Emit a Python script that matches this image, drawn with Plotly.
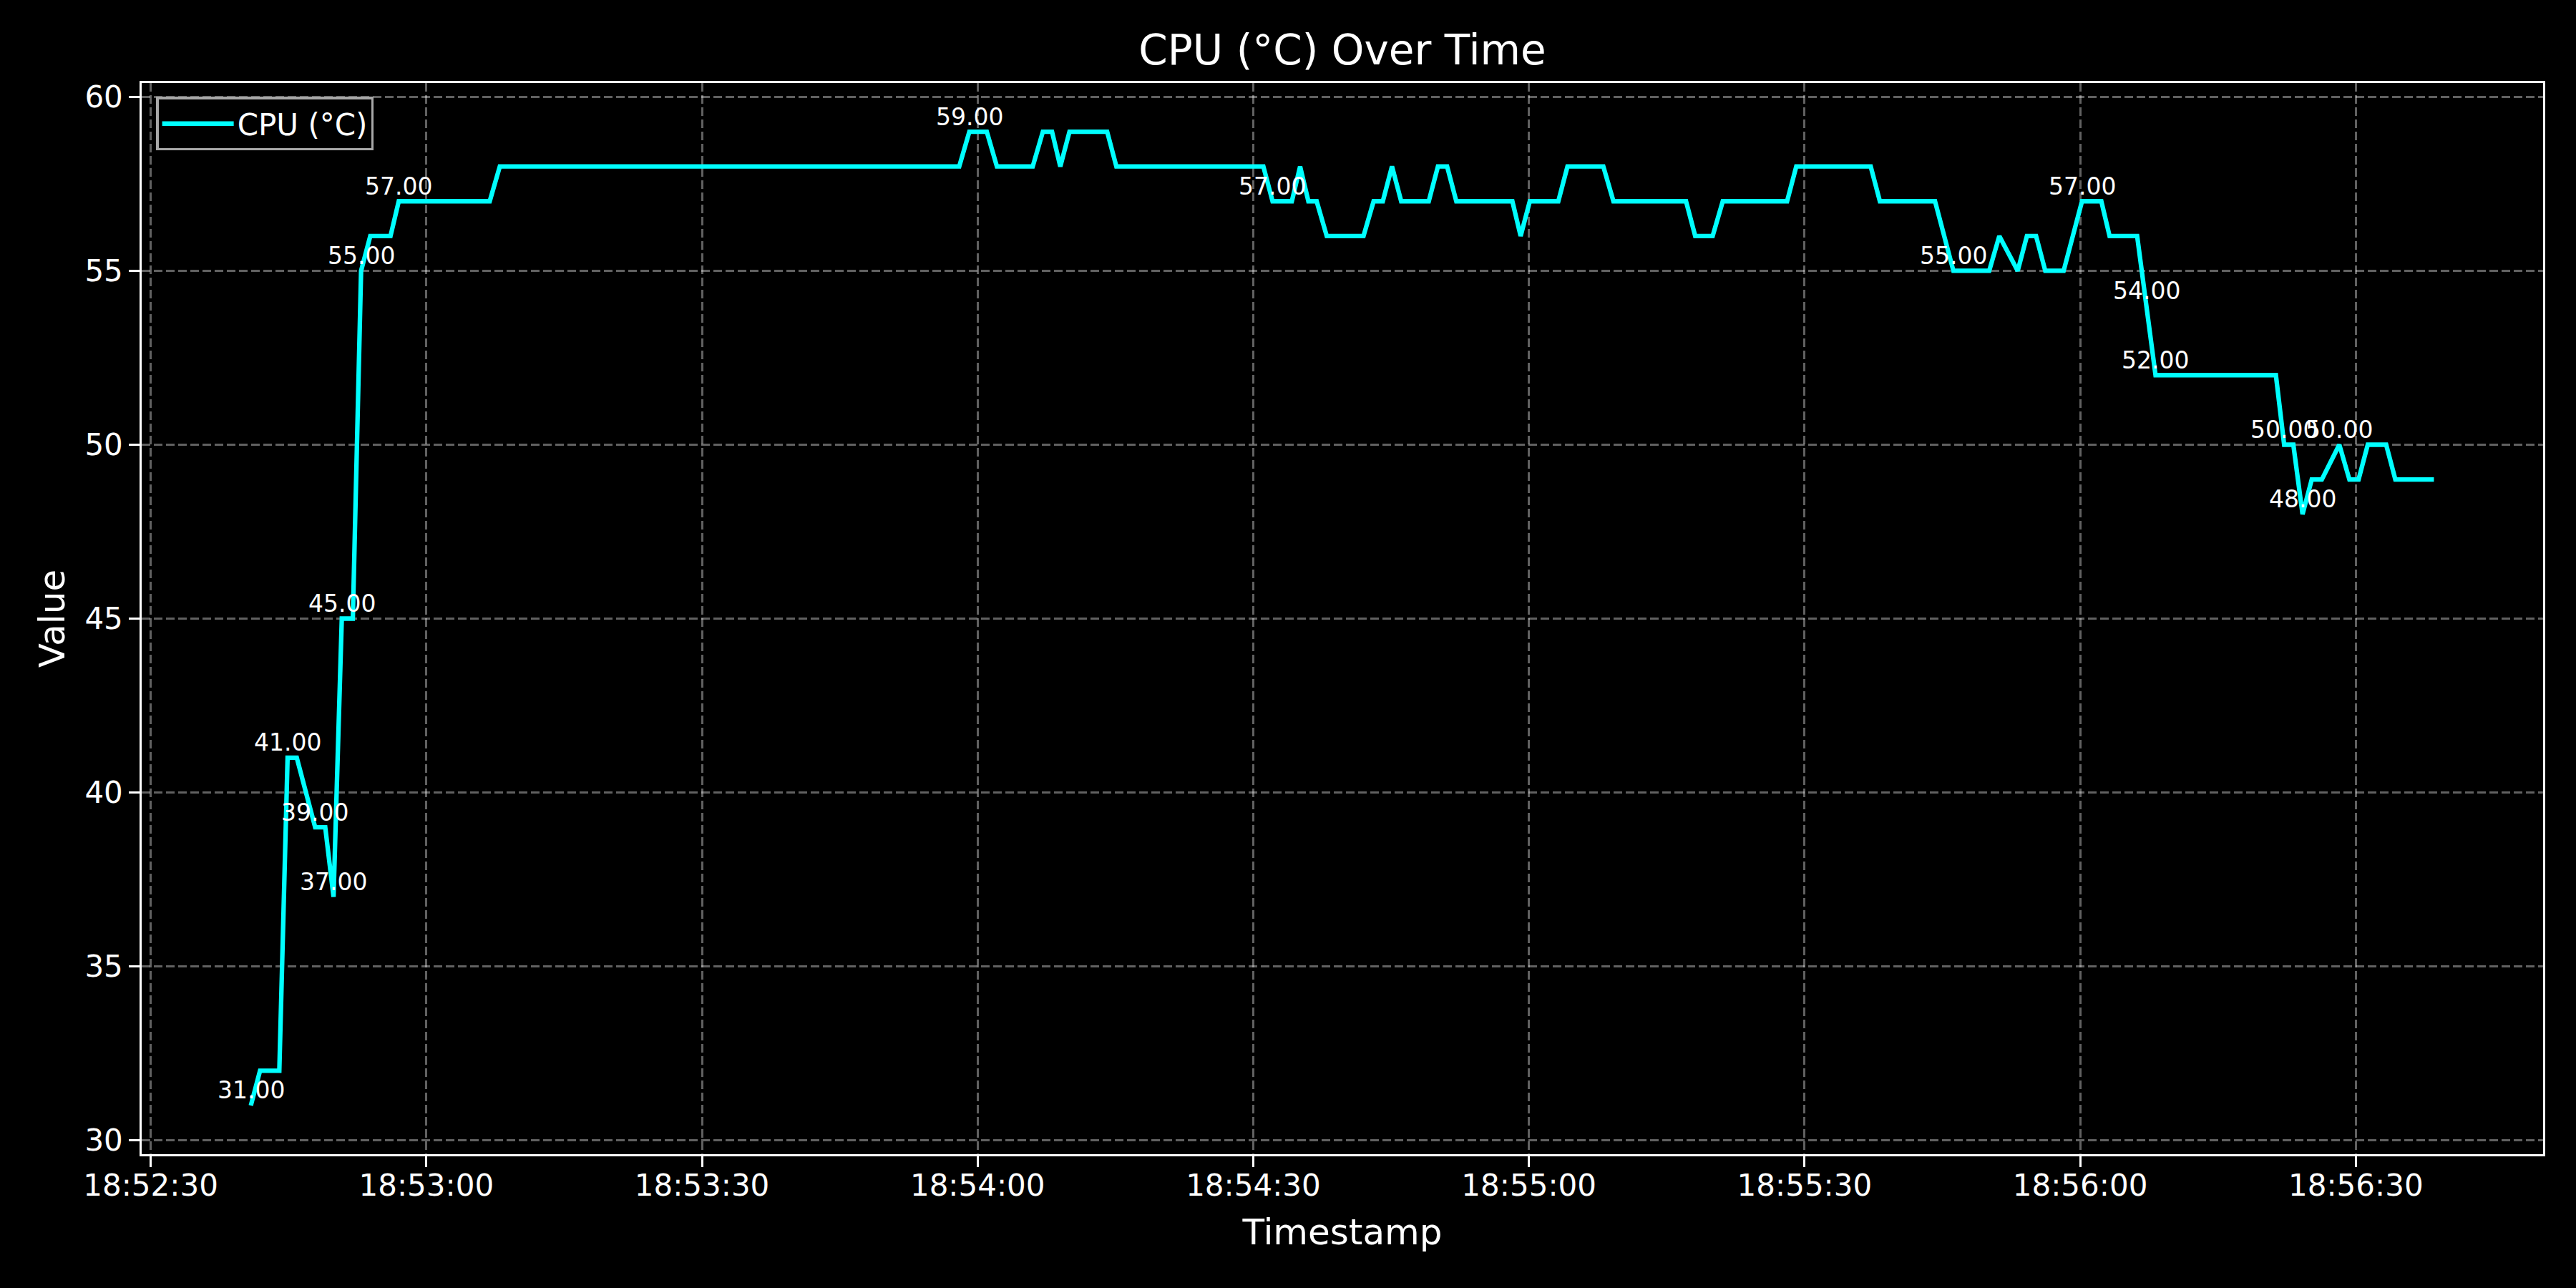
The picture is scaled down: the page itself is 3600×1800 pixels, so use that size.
import pandas as pd
import plotly.graph_objects as go

DATE = "2025-01-01"
timestamps = [
    "18:52:40.9", "18:52:41.9", "18:52:44.0", "18:52:44.9", "18:52:45.9", "18:52:47.9",
    "18:52:49.0", "18:52:49.9", "18:52:50.8", "18:52:52.0", "18:52:52.9", "18:52:53.9",
    "18:52:56.1", "18:52:57.0", "18:53:06.9", "18:53:08.0", "18:53:58.0", "18:53:59.1",
    "18:54:01.0", "18:54:02.1", "18:54:06.0", "18:54:07.1", "18:54:08.1", "18:54:09.0",
    "18:54:10.0", "18:54:14.1", "18:54:15.1", "18:54:31.1", "18:54:32.1", "18:54:34.2",
    "18:54:35.1", "18:54:36.0", "18:54:36.9", "18:54:38.0", "18:54:42.0", "18:54:43.1",
    "18:54:44.1", "18:54:45.1", "18:54:46.1", "18:54:49.1", "18:54:50.1", "18:54:51.1",
    "18:54:52.1", "18:54:58.2", "18:54:59.1", "18:55:00.1", "18:55:03.2", "18:55:04.2",
    "18:55:08.1", "18:55:09.2", "18:55:17.1", "18:55:18.1", "18:55:20.0", "18:55:21.1",
    "18:55:28.1", "18:55:29.1", "18:55:37.2", "18:55:38.2", "18:55:44.2", "18:55:46.2",
    "18:55:50.1", "18:55:51.2", "18:55:53.2", "18:55:54.2", "18:55:55.2", "18:55:56.2",
    "18:55:58.2", "18:56:00.2", "18:56:02.3", "18:56:03.2", "18:56:06.2", "18:56:07.2",
    "18:56:08.2", "18:56:21.3", "18:56:22.2", "18:56:23.2", "18:56:24.2", "18:56:25.2",
    "18:56:26.3", "18:56:28.2", "18:56:29.3", "18:56:30.3", "18:56:31.3", "18:56:33.3",
    "18:56:34.3", "18:56:38.5",
]
cpu_temp = [
    31, 32, 32, 41, 41, 39,
    39, 37, 45, 45, 55, 56,
    56, 57, 57, 58, 58, 59,
    59, 58, 58, 59, 59, 58,
    59, 59, 58, 58, 57, 57,
    58, 57, 57, 56, 56, 57,
    57, 58, 57, 57, 58, 58,
    57, 57, 56, 57, 57, 58,
    58, 57, 57, 56, 56, 57,
    57, 58, 58, 57, 57, 55,
    55, 56, 55, 56, 56, 55,
    55, 57, 57, 56, 56, 54,
    52, 52, 50, 50, 48, 49,
    49, 50, 49, 49, 50, 50,
    49, 49,
]
series_name = "CPU (°C)"
y_ticks = [30, 35, 40, 45, 50, 55, 60]
x_tick_start = "18:52:30"

times = pd.to_datetime([f"{DATE} {t}" for t in timestamps])

# label points whose value moved by >= 2 from the last labelled value
label_idx = [0]
for i in range(1, len(cpu_temp)):
    if abs(cpu_temp[i] - cpu_temp[label_idx[-1]]) >= 2:
        label_idx.append(i)

# matplotlib-like 5% margins
tspan = times.max() - times.min()
x_range = [times.min() - tspan * 0.05, times.max() + tspan * 0.05]
vmin, vmax = min(cpu_temp), max(cpu_temp)
vspan = vmax - vmin
y_range = [vmin - vspan * 0.05, vmax + vspan * 0.05]

FONT = "DejaVu Sans"
fig = go.Figure()
fig.add_trace(go.Scatter(
    x=times, y=cpu_temp, mode="lines", name=series_name,
    line=dict(color="#00ffff", width=6.3),
))

for i in label_idx:
    fig.add_annotation(
        x=times[i], y=cpu_temp[i], text=f"{cpu_temp[i]:.2f}",
        showarrow=False, yanchor="middle", yshift=21,
        font=dict(family=FONT, size=33, color="white"),
    )

axis_common = dict(
    showline=True, linecolor="white", linewidth=3.3, mirror=True,
    ticks="outside", ticklen=14.6, tickwidth=3.3, tickcolor="white",
    tickfont=dict(family=FONT, size=42, color="white"),
    showgrid=True, gridcolor="rgba(255,255,255,0.38)", gridwidth=3.3,
    griddash="12px,5px", zeroline=False,
)

fig.update_layout(
    width=3600, height=1800,
    paper_bgcolor="black", plot_bgcolor="black",
    margin=dict(l=198, r=46, t=116, b=187),
    showlegend=True,
    title=dict(
        text="CPU (°C) Over Time", x=0.5, xref="paper", xanchor="center",
        y=1 - 70 / 1800, yref="container", yanchor="middle",
        font=dict(family=FONT, size=58, color="white"),
    ),
    xaxis=dict(
        type="date", range=x_range, tickformat="%H:%M:%S",
        tick0=f"{DATE} {x_tick_start}", dtick=30000,
        ticklabelstandoff=-10,
        title=dict(text="Timestamp", font=dict(family=FONT, size=50, color="white"), standoff=24),
        **axis_common,
    ),
    yaxis=dict(
        range=y_range, tickvals=y_ticks,
        title=dict(text="Value", font=dict(family=FONT, size=50, color="white"), standoff=12),
        **axis_common,
    ),
    legend=dict(
        x=0.006, y=0.987, xanchor="left", yanchor="top",
        bgcolor="black", bordercolor="#a8a8a8", borderwidth=3.5,
        font=dict(family=FONT, size=42, color="white"),
        itemwidth=100,
    ),
)

fig.write_html(
    "out.html",
    config={"displayModeBar": False},
    post_script="document.body.style.margin='0';document.body.style.background='black';"
                "document.documentElement.style.overflow='hidden';",
)
